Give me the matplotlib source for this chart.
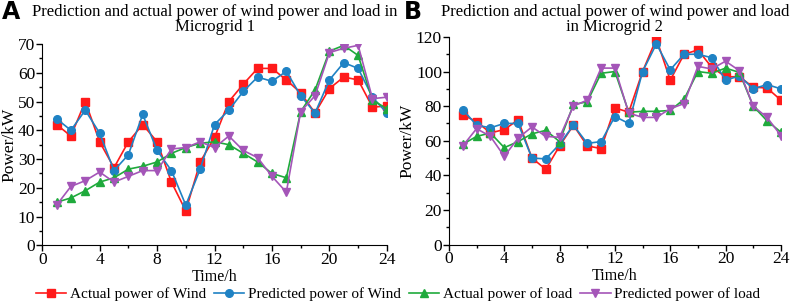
import matplotlib.pyplot as plt
import numpy as np
from matplotlib.ticker import MultipleLocator

plt.rcParams['font.family'] = ['Liberation Serif', 'DejaVu Serif']

hours = np.arange(1, 25)

# Microgrid 1
wind_act_1 = [42, 38, 50, 36, 27, 36, 42, 36, 22, 12, 29, 37.5,
              50, 56, 61.5, 61.5, 57.5, 53, 46, 54.5, 58.5, 57.5, 48, 48.5]
wind_pred_1 = [44, 40, 47, 39, 26, 31.5, 45.5, 33, 26, 14, 26.5, 42,
               47, 53.5, 58.5, 57, 60.5, 52, 46, 57.5, 63.5, 61.5, 51.5, 46]
load_act_1 = [15, 16.5, 19, 22, 23.5, 26.5, 27.5, 29, 32, 34, 35.5, 36,
              35, 32, 29, 25, 23.5, 46.5, 54, 67.5, 69.5, 66, 50.5, 47.5]
load_pred_1 = [14, 20.5, 22.5, 25.5, 22, 24, 26, 26, 33.5, 34, 36, 34,
               38, 33, 30.5, 24, 18.5, 46.5, 52, 67, 68.5, 69.5, 51, 51.5]

# Microgrid 2
wind_act_2 = [75, 71, 64.5, 66.5, 72, 50, 43.5, 57, 69, 57, 55.5, 79,
              76.5, 100, 119, 95, 110, 112.5, 102.5, 97, 97, 91, 90.5, 83.5]
wind_pred_2 = [78, 69, 67.5, 70, 70, 50, 49.5, 58, 69, 58.5, 59.5, 74,
               70, 100, 116, 101, 110, 110, 108, 95, 97.5, 90, 92.5, 90]
load_act_2 = [58, 62.5, 64.5, 56, 59.5, 64, 66, 59.5, 81, 82.5, 99, 100,
              76.5, 77, 77, 77.5, 84, 100, 99, 102, 99.5, 80, 71.5, 65]
load_pred_2 = [57, 67, 62.5, 51, 61.5, 68, 62.5, 62, 80, 83.5, 102, 102,
               76, 73.5, 73.5, 78.5, 81.5, 103, 101.5, 106, 100.5, 80, 73.5, 63]

labels = ['Actual power of Wind', 'Predicted power of Wind',
          'Actual power of load', 'Predicted power of load']
colors = ['#ff1a1a', '#1f82c4', '#1faa3c', '#a455b8']
markers = ['s', 'o', '^', 'v']

fig = plt.figure(figsize=(7.96, 3.03), dpi=100)
axA = fig.add_axes([0.053, 0.19, 0.433, 0.665])
axB = fig.add_axes([0.564, 0.193, 0.417, 0.685])


def draw(ax, series, ymax, ymaj, ymin, title, tpad):
    for vals, c, m, lab in zip(series, colors, markers, labels):
        ax.plot(hours, vals, color=c, marker=m, markersize=5.5, lw=1.2, label=lab)
    ax.set_xlim(0, 24)
    ax.set_ylim(0, ymax)
    ax.xaxis.set_major_locator(MultipleLocator(4))
    ax.xaxis.set_minor_locator(MultipleLocator(2))
    ax.yaxis.set_major_locator(MultipleLocator(ymaj))
    ax.yaxis.set_minor_locator(MultipleLocator(ymin))
    ax.spines['top'].set_visible(False)
    ax.spines['right'].set_visible(False)
    ax.tick_params(which='both', direction='out', labelsize=12.5, width=1, pad=1)
    ax.tick_params(which='major', length=4)
    ax.tick_params(which='minor', length=2.5)
    ax.set_xlabel('Time/h', fontsize=11.5, labelpad=0.5)
    ax.set_ylabel('Power/kW', fontsize=12.5, labelpad=0)
    ax.set_title(title, fontsize=12, linespacing=0.95, pad=tpad)


draw(axA, [wind_act_1, wind_pred_1, load_act_1, load_pred_1], 70, 10, 5,
     'Prediction and actual power of wind power and load in\nMicrogrid 1', 9)
draw(axB, [wind_act_2, wind_pred_2, load_act_2, load_pred_2], 120, 20, 10,
     'Prediction and actual power of wind power and load\nin Microgrid 2', 4)

fig.text(0.002, 1.0, 'A', fontsize=17, fontweight='bold', family='DejaVu Sans', va='top')
fig.text(0.507, 1.0, 'B', fontsize=17, fontweight='bold', family='DejaVu Sans', va='top')

handles, labs = axA.get_legend_handles_labels()
fig.legend(handles, labs, loc='lower center', bbox_to_anchor=(0.5, 0.0), ncol=4,
           frameon=False, fontsize=11, handlelength=2.0, handletextpad=0.25,
           columnspacing=0.5, borderaxespad=0.0, borderpad=0.1)

fig.savefig('out.png', dpi=100)
